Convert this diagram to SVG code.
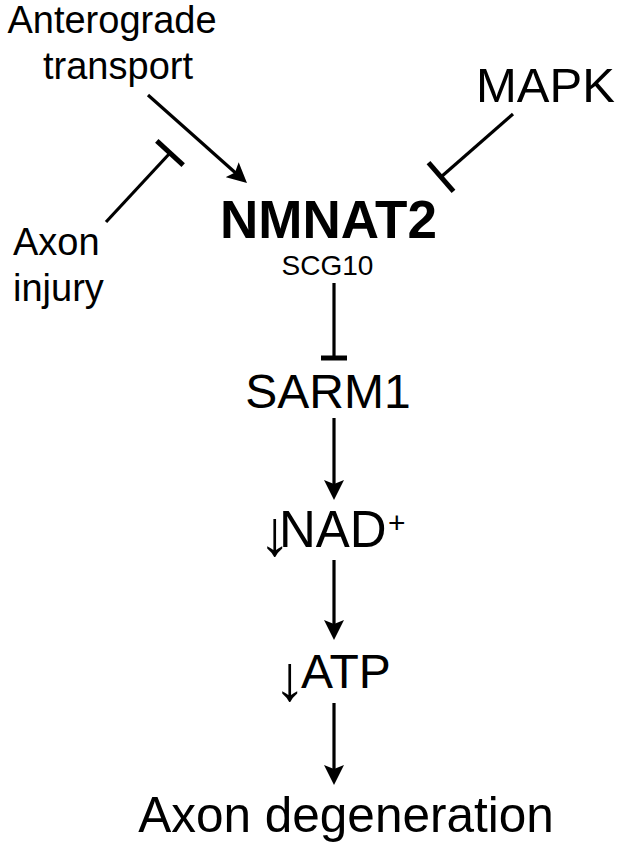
<svg xmlns="http://www.w3.org/2000/svg" width="617" height="848" viewBox="0 0 617 848">
<style>
text{font-family:"Liberation Sans",Arial,sans-serif;fill:#000}
.ln{stroke:#000;stroke-width:3.2;fill:none}
.bar{stroke:#000;stroke-width:5;fill:none}
.dn{font-size:64px;letter-spacing:-12px}
</style>
<defs>
<marker id="ah" viewBox="0 0 20 20" refX="12" refY="10" markerWidth="20" markerHeight="20" markerUnits="userSpaceOnUse" orient="auto">
<path d="M20,10 L0,0 L4,10 L0,20 Z" fill="#000"/>
</marker>
</defs>
<rect width="617" height="848" fill="#fff"/>
<g id="connectors">
<line class="ln" x1="148" y1="95" x2="241" y2="177.7" marker-end="url(#ah)"/>
<line class="ln" x1="106" y1="222" x2="170" y2="153"/>
<line class="bar" x1="156.8" y1="140.8" x2="183.2" y2="165.2"/>
<line class="ln" x1="513" y1="114" x2="441" y2="177"/>
<line class="bar" x1="428.5" y1="162.7" x2="453.5" y2="191.3"/>
<line class="ln" x1="334" y1="283" x2="334" y2="358"/>
<line class="bar" x1="321" y1="358" x2="347" y2="358"/>
<line class="ln" x1="334" y1="418" x2="334" y2="492" marker-end="url(#ah)"/>
<line class="ln" x1="334" y1="560" x2="334" y2="632" marker-end="url(#ah)"/>
<line class="ln" x1="334" y1="703" x2="334" y2="777" marker-end="url(#ah)"/>
</g>
<g id="anterograde">
<text x="112" y="33" font-size="38" text-anchor="middle">Anterograde</text>
<text x="118" y="79" font-size="38" text-anchor="middle">transport</text>
</g>
<g id="axon-injury">
<text x="13" y="255" font-size="38">Axon</text>
<text x="13" y="301" font-size="38">injury</text>
</g>
<g id="mapk">
<text x="476" y="102" font-size="49">MAPK</text>
</g>
<g id="nmnat2">
<text x="328.5" y="238" font-size="53" font-weight="bold" text-anchor="middle">NMNAT2</text>
<text x="327.5" y="275" font-size="28" text-anchor="middle">SCG10</text>
</g>
<g id="sarm1">
<text x="328" y="408" font-size="48" text-anchor="middle">SARM1</text>
</g>
<g id="nad">
<text><tspan class="dn" x="258.5" y="555">↓</tspan><tspan x="279" y="547" font-size="51">NAD</tspan><tspan x="388" y="533" font-size="30">+</tspan></text>
</g>
<g id="atp">
<text><tspan class="dn" x="273.5" y="700">↓</tspan><tspan x="301" y="688" font-size="48">ATP</tspan></text>
</g>
<g id="axon-degeneration">
<text x="346" y="832" font-size="49.5" text-anchor="middle">Axon degeneration</text>
</g>
</svg>
